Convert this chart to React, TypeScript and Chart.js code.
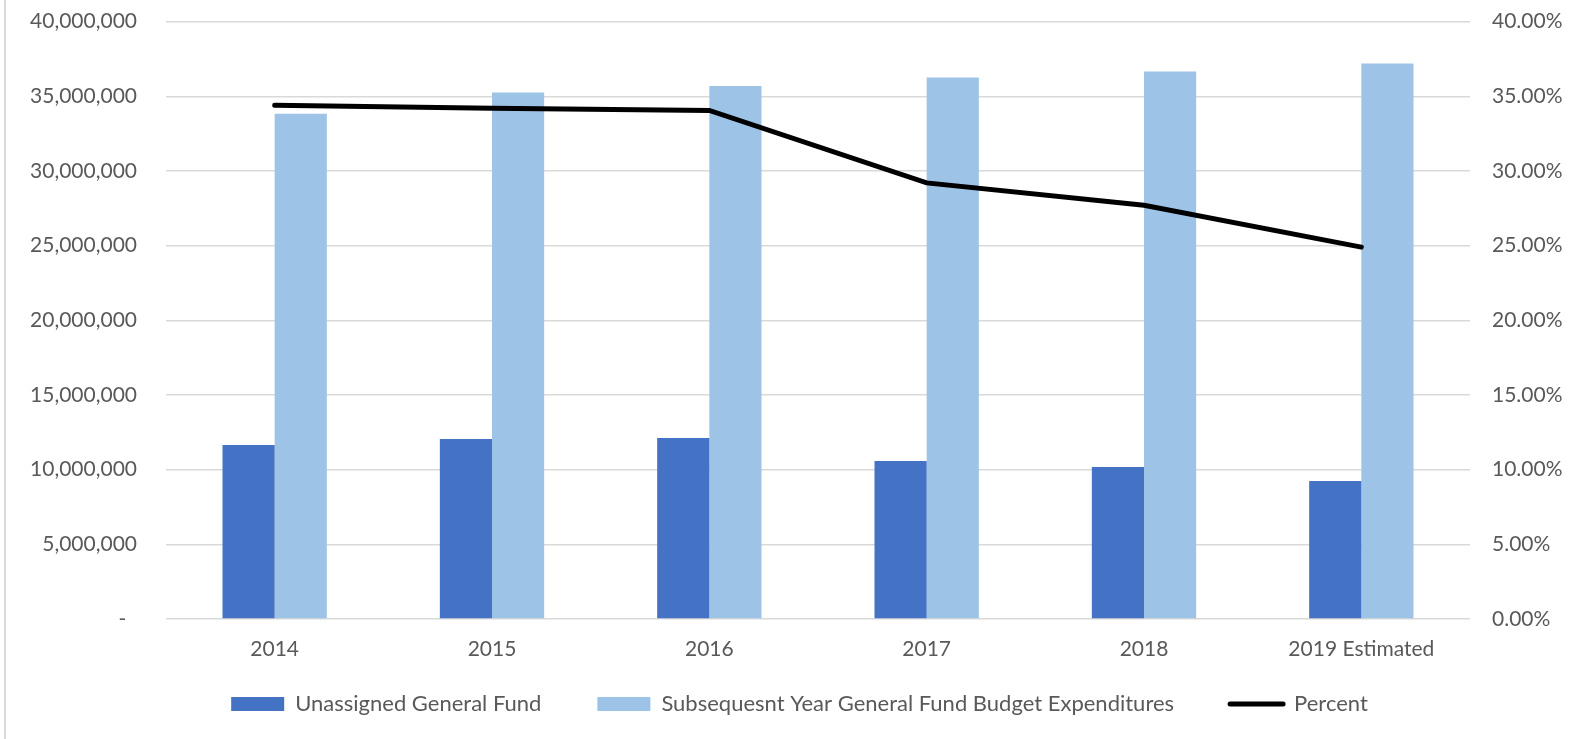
import { useEffect, useRef } from 'react';
import { Chart, registerables } from 'chart.js';

Chart.register(...registerables);

const categories = ['2014', '2015', '2016', '2017', '2018', '2019 Estimated'];
const unassignedFund = [11650000, 12050000, 12120000, 10580000, 10180000, 9240000];
const subsequentBudget = [33830000, 35250000, 35680000, 36260000, 36660000, 37200000];
const percentValues = [34.4, 34.2, 34.05, 29.2, 27.7, 24.9];
const seriesNames = [
  'Unassigned General Fund',
  'Subsequesnt Year General Fund Budget Expenditures',
  'Percent',
];

const TEXT = '#595959';
const GRID = '#d9d9d9';
const LEGEND_SHIFT_UP = 27;
const LEGEND_SHIFT_RIGHT = 10;

const shiftLegend = {
  id: 'shiftLegend',
  afterLayout(chart: any) {
    const lg = chart.legend;
    if (lg) {
      lg.top -= LEGEND_SHIFT_UP;
      lg.left += LEGEND_SHIFT_RIGHT;
      lg.right += LEGEND_SHIFT_RIGHT;
    }
  },
};

export default function App() {
  const ref = useRef<HTMLCanvasElement | null>(null);

  useEffect(() => {
    document.body.style.margin = '0';
    const canvas = ref.current;
    if (!canvas) return;
    Chart.defaults.font.family = 'Lato';
    Chart.defaults.font.size = 21;
    Chart.defaults.color = TEXT;

    const chart = new Chart(canvas, {
      type: 'bar',
      data: {
        labels: categories,
        datasets: [
          {
            type: 'bar',
            label: seriesNames[0],
            data: unassignedFund,
            backgroundColor: '#4472C4',
            borderWidth: 0,
            yAxisID: 'y',
            order: 1,
            barPercentage: 1,
            categoryPercentage: 0.48,
          },
          {
            type: 'bar',
            label: seriesNames[1],
            data: subsequentBudget,
            backgroundColor: '#9DC3E6',
            borderWidth: 0,
            yAxisID: 'y',
            order: 1,
            barPercentage: 1,
            categoryPercentage: 0.48,
          },
          {
            type: 'line',
            label: seriesNames[2],
            data: percentValues,
            borderColor: '#000000',
            backgroundColor: '#000000',
            borderWidth: 5,
            tension: 0,
            pointRadius: 0,
            pointHoverRadius: 0,
            borderCapStyle: 'round',
            borderJoinStyle: 'miter',
            yAxisID: 'y1',
            order: 0,
          },
        ],
      },
      plugins: [shiftLegend],
      options: {
        responsive: false,
        animation: false,
        layout: { padding: { top: 21.6, left: 0, right: 0, bottom: 0 } },
        plugins: {
          tooltip: { enabled: false },
          legend: {
            position: 'bottom',
            maxHeight: 75,
            labels: {
              usePointStyle: true,
              pointStyleWidth: 53,
              boxHeight: 14,
              padding: 56,
              color: TEXT,
              font: { family: 'Lato', size: 22 },
              sort: (a: any, b: any) => a.datasetIndex - b.datasetIndex,
              generateLabels: (c: any) => {
                const items = (Chart.defaults.plugins.legend.labels as any).generateLabels(c);
                items.forEach((it: any) => {
                  if (it.datasetIndex === 2) {
                    it.pointStyle = 'line';
                    it.lineWidth = 5;
                    it.strokeStyle = '#000000';
                    it.lineCap = 'round';
                  } else {
                    it.pointStyle = 'rect';
                    it.lineWidth = 0;
                  }
                });
                return items;
              },
            },
          },
        },
        scales: {
          x: {
            grid: { display: false, drawTicks: false },
            border: { display: false },
            ticks: { padding: 18, color: TEXT, font: { family: 'Lato', size: 21 } },
            afterFit: (s: any) => {
              s.height = 45;
            },
          },
          y: {
            position: 'left',
            min: 0,
            max: 40000000,
            grid: { color: GRID, lineWidth: 1.5, drawTicks: false },
            border: { display: false },
            ticks: {
              stepSize: 5000000,
              padding: 29,
              color: TEXT,
              font: { family: 'Lato', size: 21 },
              callback: (v: any) => (Number(v) === 0 ? '-  ' : Number(v).toLocaleString('en-US')),
            },
            afterFit: (s: any) => {
              s.width = 166;
              s.paddingTop = 0;
              s.paddingBottom = 0;
            },
          },
          y1: {
            position: 'right',
            min: 0,
            max: 40,
            grid: { drawOnChartArea: false, drawTicks: false },
            border: { display: false },
            ticks: {
              stepSize: 5,
              padding: 22,
              color: TEXT,
              font: { family: 'Lato', size: 21 },
              callback: (v: any) => Number(v).toFixed(2) + '%',
            },
            afterFit: (s: any) => {
              s.width = 109;
              s.paddingTop = 0;
              s.paddingBottom = 0;
            },
          },
        },
      },
    });
    return () => chart.destroy();
  }, []);

  return (
    <div style={{ position: 'relative', width: 1579, height: 739, background: '#ffffff' }}>
      <div style={{ position: 'absolute', left: 4, top: 0, width: 2, height: 739, background: GRID }} />
      <canvas ref={ref} width={1579} height={739} style={{ position: 'absolute', left: 0, top: 0 }} />
    </div>
  );
}
